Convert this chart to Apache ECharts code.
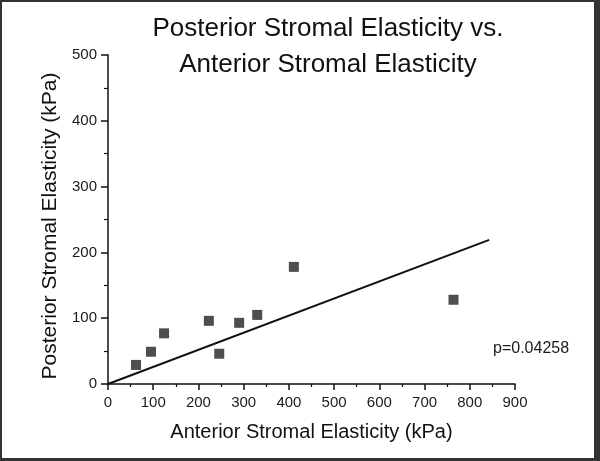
<!DOCTYPE html>
<html>
<head>
<meta charset="utf-8">
<script src="https://cdn.jsdelivr.net/npm/echarts@6/dist/echarts.min.js"></script>
<style>
html,body{margin:0;padding:0;background:#fff;}
#wrap{position:absolute;left:0;top:0;width:600px;height:461px;box-sizing:border-box;border-left:2px solid #333;border-top:2px solid #333;border-right:6px solid #333;border-bottom:3px solid #333;}
#chart{position:absolute;left:0;top:0;width:600px;height:461px;}
</style>
</head>
<body>
<div id="chart"></div>
<div id="wrap"></div>
<script>
const titleLines = ["Posterior Stromal Elasticity vs.", "Anterior Stromal Elasticity"];
const xAxisName = "Anterior Stromal Elasticity (kPa)";
const yAxisName = "Posterior Stromal Elasticity (kPa)";
const anteriorValues = [62, 95, 124, 223, 246, 290, 330, 411, 764];
const posteriorValues = [29, 49, 77, 96, 46, 93, 105, 178, 128];
const fitX = [0, 843];
const fitY = [0, 219];
const pValueText = "p=0.04258";

const font = "'Liberation Sans', Arial, sans-serif";
const chart = echarts.init(document.getElementById('chart'));
const scatterData = anteriorValues.map((x, i) => [x, posteriorValues[i]]);
const fitData = fitX.map((x, i) => [x, fitY[i]]);

chart.setOption({
  animation: false,
  backgroundColor: '#fff',
  title: {
    text: titleLines.join('\n'),
    left: 323, top: 6, textAlign: 'center',
    textStyle: {fontFamily: font, fontSize: 26, fontWeight: 'normal', color: '#111', lineHeight: 36}
  },
  grid: {left: 108, right: 85, top: 55, bottom: 77, containLabel: false},
  xAxis: {
    type: 'value', min: 0, max: 900, interval: 100,
    name: xAxisName, nameLocation: 'middle', nameGap: 38,
    nameTextStyle: {fontFamily: font, fontSize: 20, color: '#111'},
    axisLine: {show: true, lineStyle: {color: '#111', width: 1.5}},
    axisTick: {show: true, inside: false, length: 6, lineStyle: {color: '#111', width: 1.5}},
    minorTick: {show: true, splitNumber: 2, length: 3, lineStyle: {color: '#111', width: 1.2}},
    axisLabel: {fontFamily: font, fontSize: 15, color: '#1a1a1a', margin: 11},
    splitLine: {show: false}
  },
  yAxis: {
    type: 'value', min: 0, max: 500, interval: 100,
    name: yAxisName, nameLocation: 'middle', nameGap: 43,
    nameTextStyle: {fontFamily: font, fontSize: 21, color: '#111', padding: [0, 13, 0, 0]},
    axisLine: {show: true, lineStyle: {color: '#111', width: 1.5}},
    axisTick: {show: true, inside: false, length: 7, lineStyle: {color: '#111', width: 1.5}},
    minorTick: {show: true, splitNumber: 2, length: 4, lineStyle: {color: '#111', width: 1.2}},
    axisLabel: {fontFamily: font, fontSize: 15, color: '#1a1a1a', margin: 11},
    splitLine: {show: false}
  },
  graphic: [{
    type: 'text', left: 493, top: 341,
    style: {text: pValueText, font: "16px 'Liberation Sans', Arial, sans-serif", fill: '#1a1a1a'}
  }],
  series: [
    {type: 'line', data: fitData, symbol: 'none', lineStyle: {color: '#111', width: 2}, z: 2},
    {type: 'scatter', data: scatterData, symbol: 'rect', symbolSize: 10, itemStyle: {color: '#222'}, z: 3}
  ]
});
</script>
</body>
</html>
